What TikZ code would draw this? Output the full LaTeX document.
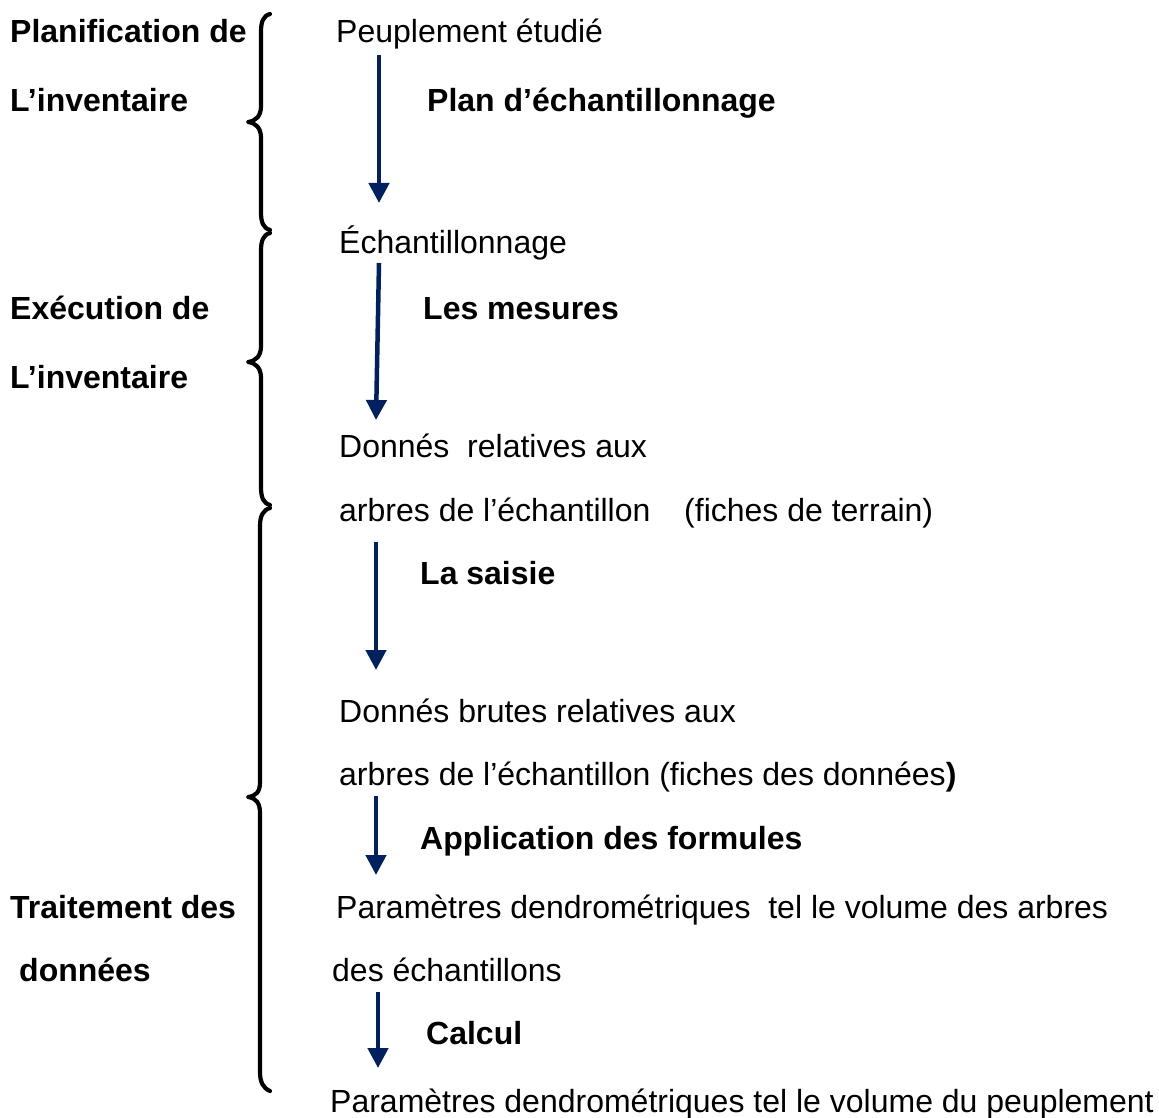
\documentclass[tikz,border=0pt]{standalone}
\usepackage{fontspec}
\setmainfont{Liberation Sans}
\usetikzlibrary{arrows.meta}
\definecolor{navy}{RGB}{0,32,96}
\begin{document}
\begin{tikzpicture}[x=1pt,y=-1pt,
  txt/.style={anchor=base west,inner sep=0pt,font=\fontsize{32}{36}\selectfont},
  btxt/.style={txt,font=\fontsize{32}{36}\selectfont\bfseries},
  flow/.style={draw=navy,line width=4.5pt,-{Triangle[width=20pt,length=20pt]}},
  brace/.style={draw=black,line width=4.2pt,line cap=round,line join=round}]
\useasboundingbox (0,0) rectangle (1159,1118);
% left labels
\node[btxt] (l1a) at (10,43) {Planification de};
\node[btxt] (l1b) at (10,112) {L’inventaire};
\node[btxt] (l2a) at (10,319) {Exécution de};
\node[btxt] (l2b) at (10,388) {L’inventaire};
\node[btxt] (l3a) at (10,918) {Traitement des};
\node[btxt] (l3b) at (19,981) {données};
% right column
\node[txt] (n1) at (336,43) {Peuplement étudié};
\node[btxt] (s1) at (427,112) {Plan d’échantillonnage};
\node[txt] (n2) at (339,253) {Échantillonnage};
\node[btxt] (s2) at (423,319) {Les mesures};
\node[txt] (n3a) at (339,457) {Donnés\ \ relatives aux};
\node[txt] (n3b) at (339,521) {arbres de l’échantillon};
\node[txt] (n3c) at (684,521) {(fiches de terrain)};
\node[btxt] (s3) at (420,584) {La saisie};
\node[txt] (n4a) at (339,722) {Donnés brutes relatives aux};
\node[txt] (n4b) at (339,785) {arbres de l’échantillon (fiches des données{\bfseries)}};
\node[btxt] (s4) at (420,849) {Application des formules};
\node[txt] (n5a) at (336,918) {Paramètres dendrométriques\ \ tel le volume des arbres};
\node[txt] (n5b) at (332,981) {des échantillons};
\node[btxt] (s5) at (426,1044) {Calcul};
\node[txt] (n6) at (330,1112) {Paramètres dendrométriques tel le volume du peuplement};
% arrow end points
\coordinate (a1s) at (379,55);  \coordinate (a1e) at (379,203);
\coordinate (a2s) at (379,263); \coordinate (a2e) at (376,420);
\coordinate (a3s) at (376,542); \coordinate (a3e) at (376,670);
\coordinate (a4s) at (376,796); \coordinate (a4e) at (376,875);
\coordinate (a5s) at (378,992); \coordinate (a5e) at (378,1068);
\draw[flow] (a1s) -- (a1e);
\draw[flow] (a2s) -- (a2e);
\draw[flow] (a3s) -- (a3e);
\draw[flow] (a4s) -- (a4e);
\draw[flow] (a5s) -- (a5e);
% braces
\draw[brace] (270,14) .. controls (263,16) and (261,22) .. (261,32) -- (261,106)
  .. controls (261,116) and (256,121) .. (248,122)
  .. controls (256,123) and (261,128) .. (261,138) -- (261,212)
  .. controls (261,222) and (263,228) .. (270,230);
\draw[brace] (270,233) .. controls (263,235) and (261,241) .. (261,251) -- (261,346)
  .. controls (261,356) and (256,361) .. (248,362)
  .. controls (256,363) and (261,368) .. (261,378) -- (261,487)
  .. controls (261,497) and (263,503) .. (270,505);
\draw[brace] (270,508) .. controls (263,510) and (260,516) .. (260,526) -- (260,782)
  .. controls (260,792) and (256,796) .. (248,797)
  .. controls (256,798) and (260,803) .. (260,813) -- (260,1072)
  .. controls (260,1082) and (263,1088) .. (270,1091);
\end{tikzpicture}
\end{document}
